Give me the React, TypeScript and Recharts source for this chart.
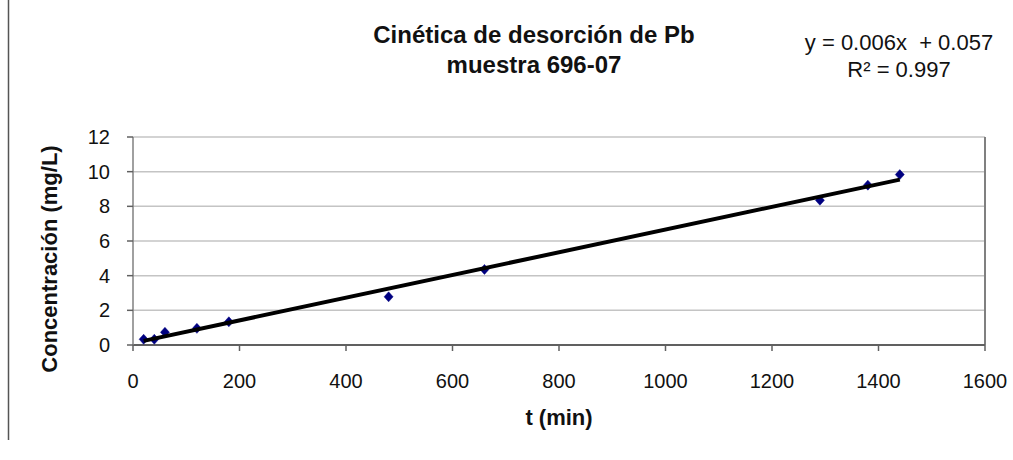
import React from 'react';
import { ScatterChart, Scatter, XAxis, YAxis, CartesianGrid, ReferenceLine } from 'recharts';

const tValues = [20, 40, 60, 120, 180, 480, 660, 1290, 1380, 1440];
const concValues = [0.33, 0.33, 0.73, 0.96, 1.34, 2.78, 4.36, 8.35, 9.22, 9.83];
const xTicks = [0, 200, 400, 600, 800, 1000, 1200, 1400, 1600];
const yTicks = [0, 2, 4, 6, 8, 10, 12];
const titleLines = ['Cinética de desorción de Pb', 'muestra 696-07'];
const equationLines = ['y = 0.006x  + 0.057', 'R² = 0.997'];
const xLabel = 't (min)';
const yLabel = 'Concentración (mg/L)';

const FONT = '"Liberation Sans", Arial, sans-serif';

const points = tValues.map((t, i) => ({ t, c: concValues[i] }));

function linearFit(xs: number[], ys: number[]) {
  const n = xs.length;
  const mx = xs.reduce((a, b) => a + b, 0) / n;
  const my = ys.reduce((a, b) => a + b, 0) / n;
  let sxx = 0;
  let sxy = 0;
  for (let i = 0; i < n; i++) {
    sxx += (xs[i] - mx) * (xs[i] - mx);
    sxy += (xs[i] - mx) * (ys[i] - my);
  }
  const slope = sxy / sxx;
  return { slope, intercept: my - slope * mx };
}

const fit = linearFit(tValues, concValues);
const xMin = Math.min(...tValues);
const xMax = Math.max(...tValues);
const trend = [
  { t: xMin, c: fit.intercept + fit.slope * xMin },
  { t: xMax, c: fit.intercept + fit.slope * xMax },
];

const Diamond = (props: any) => {
  const { cx, cy } = props;
  if (cx == null || cy == null) return <g />;
  return (
    <polygon
      points={`${cx},${cy - 5} ${cx + 4.5},${cy} ${cx},${cy + 5} ${cx - 4.5},${cy}`}
      fill="#000080"
      stroke="#000080"
      strokeWidth={0.5}
    />
  );
};

const NoShape = () => <g />;

export default function App() {
  return (
    <div
      style={{
        position: 'absolute',
        left: 0,
        top: 0,
        width: 1013,
        height: 460,
        background: '#fff',
        fontFamily: FONT,
        overflow: 'hidden',
      }}
    >
      <ScatterChart width={1013} height={460} margin={{ top: 137, right: 28, bottom: 0, left: 0 }}>
        <CartesianGrid horizontal vertical={false} stroke="#c4c4c4" strokeWidth={1.5} />
        <XAxis
          type="number"
          dataKey="t"
          domain={[0, 1600]}
          ticks={xTicks}
          interval={0}
          height={115}
          tickSize={6}
          tickMargin={23}
          axisLine={{ stroke: '#606060', strokeWidth: 2 }}
          tickLine={{ stroke: '#606060', strokeWidth: 1.5 }}
          tick={{ fontSize: 20, fill: '#111', fontFamily: FONT }}
          label={{
            content: (p: any) => {
              const vb = p.viewBox || {};
              return (
                <text
                  x={vb.x + vb.width / 2}
                  y={425}
                  textAnchor="middle"
                  fontSize={22}
                  fontWeight="bold"
                  fontFamily={FONT}
                  fill="#111"
                >
                  {xLabel}
                </text>
              );
            },
          }}
        />
        <YAxis
          type="number"
          dataKey="c"
          domain={[0, 12]}
          ticks={yTicks}
          interval={0}
          width={133}
          tickSize={6}
          tickMargin={17}
          axisLine={{ stroke: '#808080', strokeWidth: 1.5 }}
          tickLine={{ stroke: '#606060', strokeWidth: 1.5 }}
          tick={{ fontSize: 20, fill: '#111', fontFamily: FONT }}
          label={{
            content: () => (
              <text
                transform="translate(57, 259) rotate(-90)"
                textAnchor="middle"
                fontSize={22}
                fontWeight="bold"
                fontFamily={FONT}
                fill="#111"
              >
                {yLabel}
              </text>
            ),
          }}
        />
        <ReferenceLine x={1600} stroke="#808080" strokeWidth={2} ifOverflow="extendDomain" />
        <Scatter data={points} shape={Diamond} isAnimationActive={false} />
        <Scatter
          data={trend}
          shape={NoShape}
          line={{ stroke: '#000', strokeWidth: 4 }}
          isAnimationActive={false}
        />
      </ScatterChart>
      <svg
        width={1013}
        height={460}
        style={{ position: 'absolute', left: 0, top: 0, pointerEvents: 'none' }}
      >
        <line x1={8.5} y1={0} x2={8.5} y2={440} stroke="#555" strokeWidth={1.5} />
        {titleLines.map((s, i) => (
          <text
            key={s}
            x={534}
            y={43 + i * 30}
            textAnchor="middle"
            fontSize={24}
            fontWeight="bold"
            fontFamily={FONT}
            fill="#111"
          >
            {s}
          </text>
        ))}
        {equationLines.map((s, i) => (
          <text
            key={s}
            x={899}
            y={50 + i * 27}
            textAnchor="middle"
            fontSize={22}
            fontFamily={FONT}
            fill="#111"
            style={{ whiteSpace: 'pre' }}
          >
            {s}
          </text>
        ))}
      </svg>
    </div>
  );
}
